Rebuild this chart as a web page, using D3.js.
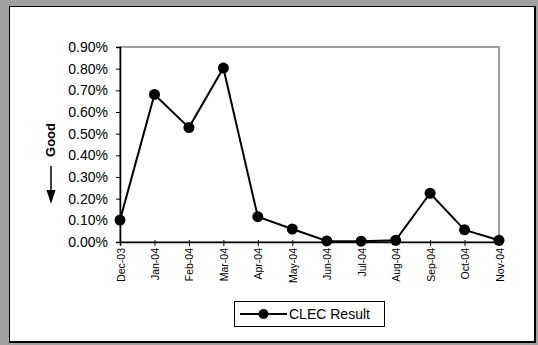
<!DOCTYPE html>
<html>
<head>
<meta charset="utf-8">
<script src="https://cdn.jsdelivr.net/npm/d3@7"></script>
<style>
  body { margin: 0; background: #a0a0a0; }
  svg { display: block; font-family: Arial, "Liberation Sans", sans-serif; }
</style>
</head>
<body>
<svg id="chart" width="538" height="345"></svg>
<script>
const months = ['Dec-03', 'Jan-04', 'Feb-04', 'Mar-04', 'Apr-04', 'May-04',
                'Jun-04', 'Jul-04', 'Aug-04', 'Sep-04', 'Oct-04', 'Nov-04'];
const clecResult = [0.101, 0.681, 0.528, 0.803, 0.117, 0.060,
                    0.005, 0.004, 0.008, 0.225, 0.056, 0.008];
const yTicks = [0, 0.1, 0.2, 0.3, 0.4, 0.5, 0.6, 0.7, 0.8, 0.9];
const seriesName = 'CLEC Result';

function renderChart()
{
    const svg = d3.select('#chart');
    const margin = {'top' : 47, 'left' : 120, 'right' : 39, 'bottom' : 103};
    const width = 538 - margin.left - margin.right;
    const height = 195;

    // outer chart panel with dark lower/right edge
    svg.append('rect')
        .attr('x', 9.5).attr('y', 6.5)
        .attr('width', 525).attr('height', 335)
        .attr('fill', '#fff').attr('stroke', '#000').attr('stroke-width', 1);
    svg.append('path')
        .attr('d', 'M535,6 V342 H9')
        .attr('fill', 'none').attr('stroke', '#000').attr('stroke-width', 2);

    const g = svg.append('g')
        .attr('transform', `translate(${margin.left}, ${margin.top})`);

    const xScale = d3.scalePoint()
        .domain(months)
        .range([0, width]);

    const yScale = d3.scaleLinear()
        .domain([0, 0.9])
        .range([height, 0]);

    // plot area frame (gray)
    g.append('rect')
        .attr('x', 0).attr('y', 0)
        .attr('width', width).attr('height', height)
        .attr('fill', 'none').attr('stroke', '#808080').attr('stroke-width', 1.5);

    const yAxis = g.append('g')
        .call(d3.axisLeft(yScale)
            .tickValues(yTicks)
            .tickFormat(d => d.toFixed(2) + '%')
            .tickSizeOuter(0)
            .tickSize(4)
            .tickPadding(8));
    yAxis.select('.domain').attr('stroke', '#000').attr('stroke-width', 1.5);
    yAxis.selectAll('.tick line').attr('stroke', '#000');
    yAxis.selectAll('text').attr('font-size', '14px').attr('fill', '#000')
        .attr('font-family', 'Arial, "Liberation Sans", sans-serif');

    const xAxis = g.append('g')
        .attr('transform', `translate(0, ${height})`)
        .call(d3.axisBottom(xScale)
            .tickSizeOuter(0)
            .tickSize(4));
    xAxis.select('.domain').attr('stroke', '#000').attr('stroke-width', 1.5);
    xAxis.selectAll('.tick line').attr('stroke', '#000').attr('y1', -2);
    xAxis.selectAll('text')
        .attr('font-size', '10.5px')
        .attr('fill', '#000')
        .attr('font-family', 'Arial, "Liberation Sans", sans-serif')
        .attr('text-anchor', 'end')
        .attr('dy', null)
        .attr('transform', 'rotate(-90)')
        .attr('x', -6)
        .attr('y', 4);

    const data = months.map((m, i) => ({'month' : m, 'value' : clecResult[i]}));

    g.append('path')
        .datum(data)
        .attr('fill', 'none')
        .attr('stroke', '#000')
        .attr('stroke-width', 2)
        .attr('d', d3.line().x(d => xScale(d.month)).y(d => yScale(d.value)));

    g.selectAll('.dot')
        .data(data)
        .enter()
        .append('circle')
        .attr('class', 'dot')
        .attr('cx', d => xScale(d.month))
        .attr('cy', d => yScale(d.value))
        .attr('r', 5.5)
        .attr('fill', '#000');

    // "Good" with down arrow
    svg.append('text')
        .attr('transform', 'translate(55, 140) rotate(-90)')
        .attr('text-anchor', 'middle')
        .attr('font-size', '13px')
        .attr('font-weight', 'bold')
        .text('Good');
    svg.append('line')
        .attr('x1', 51).attr('x2', 51)
        .attr('y1', 166).attr('y2', 192)
        .attr('stroke', '#000').attr('stroke-width', 1.5);
    svg.append('path')
        .attr('d', 'M46.5,190 L55.5,190 L51,204 Z')
        .attr('fill', '#000');

    // legend
    const legend = svg.append('g').attr('transform', 'translate(234, 301)');
    legend.append('rect')
        .attr('x', 0.5).attr('y', 0.5)
        .attr('width', 150).attr('height', 25)
        .attr('fill', '#fff').attr('stroke', '#000').attr('stroke-width', 1);
    legend.append('line')
        .attr('x1', 6).attr('x2', 53)
        .attr('y1', 13).attr('y2', 13)
        .attr('stroke', '#000').attr('stroke-width', 2);
    legend.append('circle')
        .attr('cx', 29.5).attr('cy', 13).attr('r', 5)
        .attr('fill', '#000');
    legend.append('text')
        .attr('x', 55).attr('y', 18)
        .attr('font-size', '14px')
        .text(seriesName);
}

renderChart();
</script>
</body>
</html>
